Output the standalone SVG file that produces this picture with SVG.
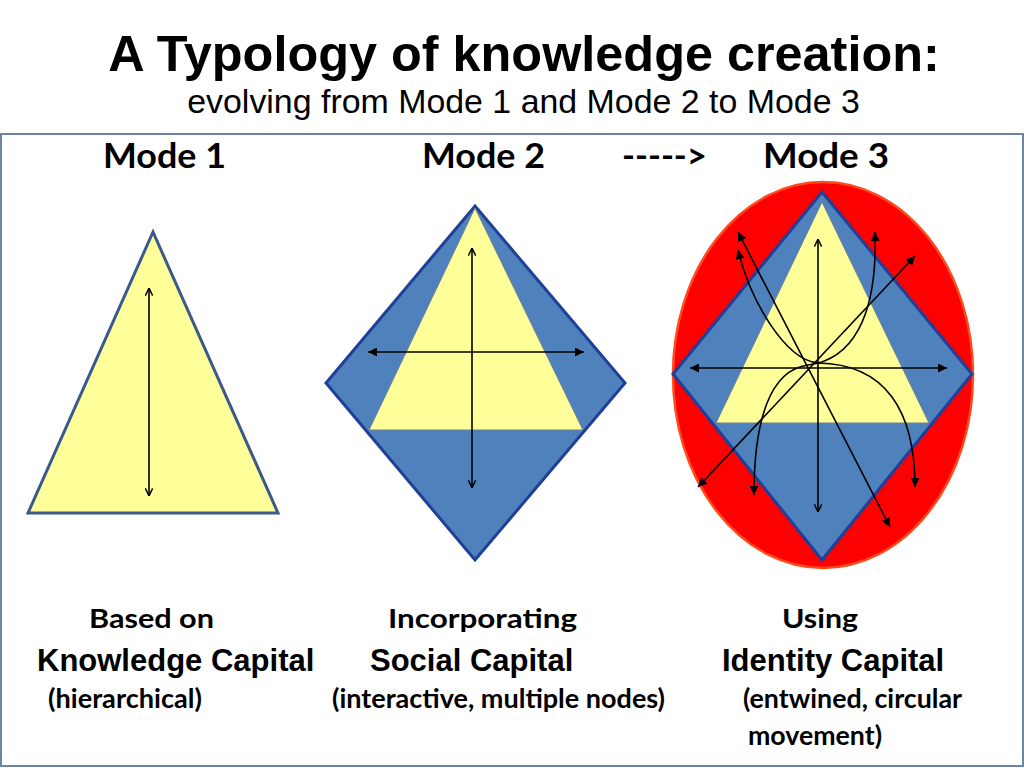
<svg xmlns="http://www.w3.org/2000/svg" width="1024" height="768" viewBox="0 0 1024 768">
<style>
.title{font-family:"Liberation Sans",Arial,sans-serif;font-weight:bold;fill:#000}
.sub{font-family:"Liberation Sans",Arial,sans-serif;fill:#000}
.cal{font-family:Lato,"Open Sans",sans-serif;font-weight:bold;fill:#000}
.ari{font-family:"Liberation Sans",Arial,sans-serif;font-weight:bold;fill:#000;font-size:31px}
.yel{fill:#ffff99}
.dia{fill:#4f81bd;stroke:#1f3f99;stroke-width:3;stroke-linejoin:miter}
.ln{fill:none;stroke:#000;stroke-width:1.6}
.op{marker-start:url(#openHead);marker-end:url(#openHead)}
.fl{marker-start:url(#fillHead);marker-end:url(#fillHead)}
</style>
<defs>
<marker id="openHead" viewBox="0 0 10 10" refX="9.5" refY="5" markerWidth="9" markerHeight="9" markerUnits="userSpaceOnUse" orient="auto-start-reverse">
<path d="M1,1 L9.5,5 L1,9" fill="none" stroke="#000" stroke-width="1.6"/>
</marker>
<marker id="fillHead" viewBox="0 0 10 10" refX="10" refY="5" markerWidth="10" markerHeight="9" markerUnits="userSpaceOnUse" orient="auto-start-reverse">
<path d="M0,0 L10,5 L0,10 z" fill="#000"/>
</marker>
</defs>
<rect width="1024" height="768" fill="#fff"/>
<rect x="1" y="134" width="1022" height="632" fill="none" stroke="#6f83a6" stroke-width="2"/>
<g id="title">
<text class="title" x="524" y="71" font-size="50.4" text-anchor="middle">A Typology of knowledge creation:</text>
<text class="sub" x="523.5" y="113" font-size="33.9" text-anchor="middle">evolving from Mode 1 and Mode 2 to Mode 3</text>
</g>
<g id="headers">
<text class="cal" x="103" y="168" font-size="34" textLength="123" lengthAdjust="spacingAndGlyphs">Mode 1</text>
<text class="cal" x="422" y="168" font-size="34" textLength="123" lengthAdjust="spacingAndGlyphs">Mode 2</text>
<text class="cal" x="622" y="168" font-size="34" textLength="85" lengthAdjust="spacingAndGlyphs">-----&gt;</text>
<text class="cal" x="763" y="168" font-size="34" textLength="126" lengthAdjust="spacingAndGlyphs">Mode 3</text>
</g>
<g id="mode1">
<polygon points="153,232 28,513 278,513" class="yel" stroke="#3b5a8a" stroke-width="3" stroke-linejoin="miter"/>
</g>
<g id="mode2">
<polygon points="475,206 625,383 475,560 326,383" class="dia"/>
<polygon points="475,208 583,430 369,430" class="yel" stroke="#6d7f96" stroke-width="1"/>
</g>
<g id="mode3">
<ellipse cx="823" cy="375" rx="150" ry="193" fill="#ff0000" stroke="#ff4a1c" stroke-width="2.5"/>
<polygon points="822,192 972,374 822,560 673,374" class="dia"/>
<polygon points="822,202 929,423 716,423" class="yel" stroke="#6d7f96" stroke-width="1"/>
</g>
<g id="connectors">
<line class="ln op" x1="149" y1="288" x2="149" y2="496"/>
<line class="ln op" x1="472" y1="248" x2="472" y2="488"/>
<line class="ln fl" x1="368" y1="352" x2="584" y2="352"/>
<line class="ln op" x1="818" y1="239" x2="818" y2="512"/>
<line class="ln fl" x1="690" y1="368" x2="947" y2="368"/>
<line class="ln fl" x1="738" y1="232" x2="890" y2="527"/>
<line class="ln fl" x1="698" y1="487" x2="915" y2="256"/>
<path class="ln fl" d="M738,250 C750,300 785,360 818,363 C885,364 915,410 915,487"/>
<path class="ln fl" d="M875,232 C878,320 850,360 808,365 C770,370 754,420 754,495"/>
</g>
<g id="captions">
<text class="cal" x="89" y="628" font-size="26" textLength="125" lengthAdjust="spacingAndGlyphs">Based on</text>
<text class="ari" x="37" y="671">Knowledge Capital</text>
<text class="cal" x="48" y="708" font-size="26" textLength="154" lengthAdjust="spacingAndGlyphs">(hierarchical)</text>
<text class="cal" x="388" y="628" font-size="26" textLength="189" lengthAdjust="spacingAndGlyphs">Incorporating</text>
<text class="ari" x="370" y="671">Social Capital</text>
<text class="cal" x="332" y="708" font-size="26" textLength="333" lengthAdjust="spacingAndGlyphs">(interactive, multiple nodes)</text>
<text class="cal" x="782" y="628" font-size="26" textLength="76" lengthAdjust="spacingAndGlyphs">Using</text>
<text class="ari" x="722" y="671">Identity Capital</text>
<text class="cal" x="743" y="708" font-size="26" textLength="219" lengthAdjust="spacingAndGlyphs">(entwined, circular</text>
<text class="cal" x="748" y="745" font-size="26" textLength="134" lengthAdjust="spacingAndGlyphs">movement)</text>
</g>
</svg>
